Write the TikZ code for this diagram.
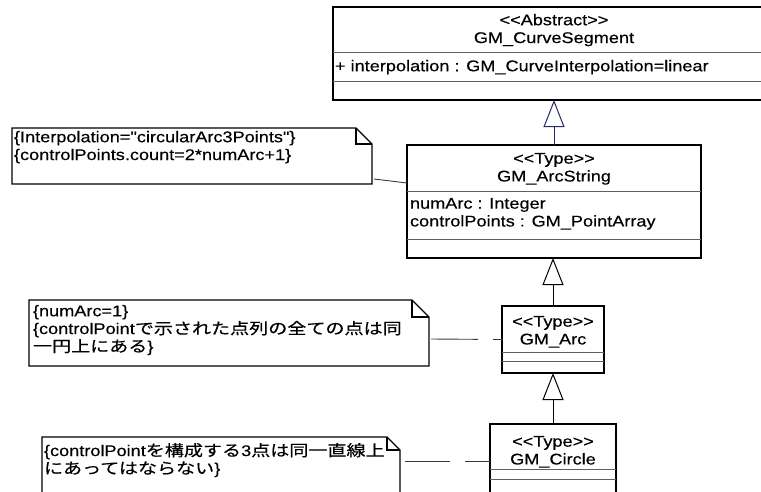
\documentclass[tikz,border=0pt]{standalone}
\usepackage{fontspec}
\setmainfont{Liberation Sans}[FakeStretch=1.17, FakeBold=0.35, Ligatures=TeXOff]
\newfontfamily\jp{Noto Sans CJK JP}[FakeStretch=1.23, FakeBold=0.35]
\usetikzlibrary{arrows.meta,calc}

\definecolor{navyline}{RGB}{40,40,100}
\definecolor{sepgray}{RGB}{95,95,95}
\definecolor{linkgray}{RGB}{60,60,60}

\begin{document}
\begin{tikzpicture}[x=1pt,y=-1pt,
  every node/.style={font=\fontsize{15.5}{17.8}\selectfont, inner sep=0pt, outer sep=0pt},
  classbox/.style={draw=black, line width=1.2pt, rectangle, anchor=north west},
  compline/.style={draw=sepgray, line width=1pt},
  notebox/.style={rectangle, anchor=north west},
  noteline/.style={draw=black, line width=1.2pt, line join=miter},
  anchorline/.style={draw=linkgray, line width=0.9pt},
  genline/.style={line width=1pt, -{Triangle[open, length=27pt, width=21pt, line width=1pt]}},
  title/.style={align=center, anchor=north},
  body/.style={align=left, anchor=north west},
]
\useasboundingbox (0,0) rectangle (761,491);
\clip (0,0) rectangle (761,491);

% ---- classes ----
\node[classbox, minimum width=442pt, minimum height=93pt] (seg) at (333,7) {};
\draw[compline] ($(seg.north west)+(0,45)$) -- ($(seg.north east)+(0,45)$);
\draw[compline] ($(seg.north west)+(0,74)$) -- ($(seg.north east)+(0,74)$);
\node[title] (segT) at ($(seg.north)+(0,7)$) {<<Abstract>>\\GM\_CurveSegment};
\node[body] (segA) at ($(seg.north west)+(2,53)$) {+ interpolation : GM\_CurveInterpolation=linear};

\node[classbox, minimum width=294pt, minimum height=113pt] (arcstr) at (407,145) {};
\draw[compline] ($(arcstr.north west)+(0,46)$) -- ($(arcstr.north east)+(0,46)$);
\draw[compline] ($(arcstr.north west)+(0,94)$) -- ($(arcstr.north east)+(0,94)$);
\node[title] (arcstrT) at ($(arcstr.north)+(0,8)$) {<<Type>>\\GM\_ArcString};
\node[body] (arcstrA) at ($(arcstr.north west)+(3,53)$) {numArc : Integer\\controlPoints : GM\_PointArray};

\node[classbox, minimum width=102pt, minimum height=67pt] (arc) at (502,306) {};
\draw[compline] ($(arc.north west)+(0,46)$) -- ($(arc.north east)+(0,46)$);
\draw[compline] ($(arc.north west)+(0,55)$) -- ($(arc.north east)+(0,55)$);
\node[title] (arcT) at ($(arc.north)+(0,10)$) {<<Type>>\\GM\_Arc};

\node[classbox, minimum width=126pt, minimum height=100pt] (circ) at (490,424) {};
\draw[compline] ($(circ.north west)+(0,45)$) -- ($(circ.north east)+(0,45)$);
\draw[compline] ($(circ.north west)+(0,55)$) -- ($(circ.north east)+(0,55)$);
\node[title] (circT) at ($(circ.north)+(0,12)$) {<<Type>>\\GM\_Circle};

% ---- generalizations ----
\draw[genline, draw=navyline] (arcstr.north) -- (arcstr.north |- seg.south);
\draw[genline, draw=black] (arc.north) -- (arc.north |- arcstr.south);
\draw[genline, draw=black] (circ.north) -- (circ.north |- arc.south);

% ---- notes ----
\node[notebox, minimum width=360pt, minimum height=56pt] (n1) at (12,128) {};
\draw[noteline] (n1.north west) -- ($(n1.north east)+(-16,0)$) -- ($(n1.north east)+(0,16)$)
  -- (n1.south east) -- (n1.south west) -- cycle;
\draw[noteline] ($(n1.north east)+(-16,0)$) -- ($(n1.north east)+(-16,16)$) -- ($(n1.north east)+(0,16)$);
\node[body] (n1T) at ($(n1.north west)+(2,3)$)
  {\{Interpolation="circularArc3Points"\}\\\{controlPoints.count=2*numArc+1\}};

\node[notebox, minimum width=400pt, minimum height=66pt] (n2) at (29,300) {};
\draw[noteline] (n2.north west) -- ($(n2.north east)+(-17,0)$) -- ($(n2.north east)+(0,17)$)
  -- (n2.south east) -- (n2.south west) -- cycle;
\draw[noteline] ($(n2.north east)+(-17,0)$) -- ($(n2.north east)+(-17,17)$) -- ($(n2.north east)+(0,17)$);
\node[body] (n2T) at ($(n2.north west)+(4,5)$)
  {\{numArc=1\}\\\{controlPoint{\jp で示された点列の全ての点は同}\\{\jp 一円上にある}\}};

\node[notebox, minimum width=358pt, minimum height=100pt] (n3) at (42,437) {};
\draw[noteline] (n3.north west) -- ($(n3.north east)+(-13,0)$) -- ($(n3.north east)+(0,13)$)
  -- (n3.south east) -- (n3.south west) -- cycle;
\draw[noteline] ($(n3.north east)+(-13,0)$) -- ($(n3.north east)+(-13,13)$) -- ($(n3.north east)+(0,13)$);
\node[body] (n3T) at ($(n3.north west)+(2,6)$)
  {\{controlPoint{\jp を構成する}3{\jp 点は同一直線上}\\{\jp にあってはならない}\}};

% ---- note anchors ----
\draw[anchorline] ($(n1.south east)+(2,-5)$) -- ($(arcstr.north west)+(0,38)$);
\draw[anchorline, dash pattern=on 47pt off 15pt on 30pt] ($(n2.east)+(2,6)$) -- (arc.west);
\draw[anchorline, dash pattern=on 45pt off 15pt on 30pt] ($(n3.north east)+(5,24)$) -- ($(circ.north west)+(0,37)$);
\end{tikzpicture}
\end{document}
